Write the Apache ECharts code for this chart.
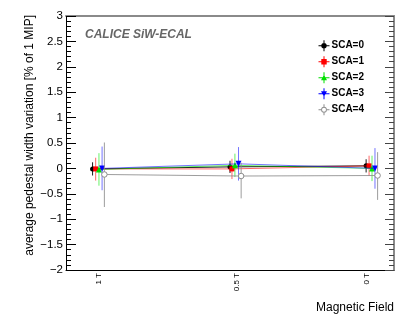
<!DOCTYPE html>
<html>
<head>
<meta charset="utf-8">
<script src="https://cdn.jsdelivr.net/npm/echarts@6/dist/echarts.min.js"></script>
<style>html,body{margin:0;padding:0;background:#fff;}#c{width:415px;height:322px;}</style>
</head>
<body>
<div id="c"></div>
<script>
// ---- data ----
var xLabels = ['1 T', '0.5 T', '0 T'];
var xLabelPos = [10.1, 52.1, 91.8];
var yTicks = [-2, -1.5, -1, -0.5, 0, 0.5, 1, 1.5, 2, 2.5, 3];
var seriesNames = ['SCA=0', 'SCA=1', 'SCA=2', 'SCA=3', 'SCA=4'];

var sca0X = [8.1, 50.0, 91.5];
var sca1X = [9.05, 50.6, 92.4];
var sca2X = [10.05, 51.5, 93.3];
var sca3X = [11.0, 52.6, 94.2];
var sca4X = [11.7, 53.4, 95.0];

var sca0Y = [-0.01, 0.03, 0.05];
var sca1Y = [-0.01, -0.01, 0.05];
var sca2Y = [-0.02, 0.06, 0.0];
var sca3Y = [0.0, 0.09, 0.0];
var sca4Y = [-0.12, -0.15, -0.14];

var sca0ErrUp = [0.13, 0.12, 0.13];
var sca0ErrDn = [0.13, 0.12, 0.13];
var sca1ErrUp = [0.22, 0.2, 0.2];
var sca1ErrDn = [0.23, 0.2, 0.2];
var sca2ErrUp = [0.32, 0.23, 0.25];
var sca2ErrDn = [0.32, 0.23, 0.25];
var sca3ErrUp = [0.43, 0.33, 0.4];
var sca3ErrDn = [0.43, 0.33, 0.4];
var sca4ErrUp = [0.63, 0.26, 0.46];
var sca4ErrDn = [0.64, 0.44, 0.48];

// ---- styles ----
var markerColors = ['#000000', '#ff0000', '#00e000', '#0000ff', '#8c8c8c'];
var barColors = ['rgba(0,0,0,0.9)', 'rgba(255,0,0,0.6)', 'rgba(0,230,0,0.6)', 'rgba(0,0,255,0.55)', 'rgba(140,140,140,0.85)'];
var symbols = ['circle', 'rect', 'triangle', 'triangle', 'circle'];
var symbolRot = [0, 0, 0, 180, 0];
var symbolSizes = [5, 5, 6, 6, 5.5];
var icons = [
  'path://M0,5L11,5L11,6L0,6Z M5,0L6,0L6,11L5,11Z M8.2,5.5A2.7,2.7,0,1,1,2.8,5.5A2.7,2.7,0,1,1,8.2,5.5Z',
  'path://M0,5L11,5L11,6L0,6Z M5,0L6,0L6,11L5,11Z M2.8,2.8L8.2,2.8L8.2,8.2L2.8,8.2Z',
  'path://M0,5L11,5L11,6L0,6Z M5,0L6,0L6,11L5,11Z M5.5,2.5L8.5,8L2.5,8Z',
  'path://M0,5L11,5L11,6L0,6Z M5,0L6,0L6,11L5,11Z M2.5,3L8.5,3L5.5,8.5Z',
  'path://M0,5L2.6,5L2.6,6L0,6Z M8.4,5L11,5L11,6L8.4,6Z M5,0L6,0L6,2.6L5,2.6Z M5,8.4L6,8.4L6,11L5,11Z M8.4,5.5A2.9,2.9,0,1,1,2.6,5.5A2.9,2.9,0,1,1,8.4,5.5Z M7.5,5.5A2,2,0,1,0,3.5,5.5A2,2,0,1,0,7.5,5.5Z'
];

var allX = [sca0X, sca1X, sca2X, sca3X, sca4X];
var allY = [sca0Y, sca1Y, sca2Y, sca3Y, sca4Y];
var allUp = [sca0ErrUp, sca1ErrUp, sca2ErrUp, sca3ErrUp, sca4ErrUp];
var allDn = [sca0ErrDn, sca1ErrDn, sca2ErrDn, sca3ErrDn, sca4ErrDn];

var series = [];
for (var s = 0; s < 5; s++) {
  (function (s) {
    var errData = allX[s].map(function (x, i) { return [x, allY[s][i], allY[s][i] - allDn[s][i], allY[s][i] + allUp[s][i]]; });
    series.push({
      type: 'custom',
      name: seriesNames[s] + '_err',
      xAxisIndex: 0, yAxisIndex: 0,
      silent: true,
      z: 2 + s * 2,
      encode: { x: 0, y: [1, 2, 3] },
      data: errData,
      renderItem: function (params, api) {
        var p1 = api.coord([api.value(0), api.value(2)]);
        var p2 = api.coord([api.value(0), api.value(3)]);
        return {
          type: 'line',
          shape: { x1: p1[0], y1: p1[1], x2: p2[0], y2: p2[1] },
          style: { stroke: barColors[s], lineWidth: 1 }
        };
      }
    });
    series.push({
      type: 'line',
      name: seriesNames[s],
      xAxisIndex: 0, yAxisIndex: 0,
      z: 3 + s * 2,
      data: allX[s].map(function (x, i) { return [x, allY[s][i]]; }),
      symbol: symbols[s],
      symbolRotate: symbolRot[s],
      symbolSize: symbolSizes[s],
      showSymbol: true,
      animation: false,
      lineStyle: { color: barColors[s], width: 1 },
      itemStyle: s === 4 ? { color: '#ffffff', borderColor: markerColors[s], borderWidth: 1 } : { color: markerColors[s], borderWidth: 0 },
      emphasis: { disabled: true }
    });
  })(s);
}

var chart = echarts.init(document.getElementById('c'), null, { renderer: 'canvas' });
var font = 'Liberation Sans, Arial, Helvetica, sans-serif';
chart.setOption({
  animation: false,
  backgroundColor: '#ffffff',
  textStyle: { fontFamily: font },
  grid: { left: 66, right: 21, top: 16, bottom: 52, containLabel: false },
  legend: {
    orient: 'vertical',
    left: 313.5,
    top: 35.2,
    itemWidth: 11,
    itemHeight: 11,
    itemGap: 5,
    selectedMode: false,
    itemStyle: { borderWidth: 0 },
    textStyle: { fontFamily: font, fontWeight: 'bold', fontSize: 10, color: '#000', padding: [0, 0, 0, -3] },
    data: seriesNames.map(function (n, i) { return { name: n, icon: icons[i], itemStyle: { color: markerColors[i], borderWidth: 0 } }; })
  },
  xAxis: [{
    type: 'value', min: 0, max: 100,
    position: 'bottom',
    axisLine: { show: true, onZero: false, lineStyle: { color: '#000', width: 1 } },
    axisTick: { show: false },
    splitLine: { show: false },
    axisLabel: {
      customValues: xLabelPos,
      rotate: 90,
      fontSize: 8,
      margin: 3,
      color: '#000',
      fontFamily: font,
      formatter: function (v) { var i = xLabelPos.indexOf(v); return i >= 0 ? xLabels[i] : ''; }
    }
  }, {
    type: 'value', min: 0, max: 100,
    position: 'top',
    axisLine: { show: true, onZero: false, lineStyle: { color: '#8a8a8a', width: 2 } },
    axisTick: { show: false }, axisLabel: { show: false }, splitLine: { show: false }
  }],
  yAxis: [{
    type: 'value', min: -2, max: 3, interval: 0.5,
    position: 'left',
    axisLine: { show: true, onZero: false, lineStyle: { color: '#000', width: 1 } },
    axisTick: { show: true, inside: true, length: 10, lineStyle: { color: '#000' } },
    minorTick: { show: true, splitNumber: 5, length: 5, lineStyle: { color: '#000' } },
    splitLine: { show: false },
    axisLabel: {
      fontSize: 11.5, color: '#000', margin: 3, fontFamily: font,
      formatter: function (v) { var r = Math.round(v * 10) / 10; return r < 0 ? '\u2212' + String(-r) : String(r); }
    }
  }, {
    type: 'value', min: -2, max: 3, interval: 0.5,
    position: 'right',
    axisLine: { show: true, onZero: false, lineStyle: { color: '#8a8a8a', width: 2 } },
    axisTick: { show: true, inside: true, length: 9, lineStyle: { color: '#444' } },
    minorTick: { show: true, splitNumber: 5, length: 5, lineStyle: { color: '#444' } },
    splitLine: { show: false },
    axisLabel: { show: false }
  }],
  graphic: [
    { type: 'text', x: 30, y: 15, rotation: Math.PI / 2,
      style: { text: 'average pedestal width variation [% of 1 MIP]', fill: '#000', font: '12px ' + font, textAlign: 'right', textVerticalAlign: 'middle' } },
    { type: 'text', x: 394, y: 308,
      style: { text: 'Magnetic Field', fill: '#000', font: '12px ' + font, textAlign: 'right', textVerticalAlign: 'middle' } },
    { type: 'text', x: 85, y: 35,
      style: { text: 'CALICE SiW-ECAL', fill: '#666', font: 'italic bold 12px ' + font, textAlign: 'left', textVerticalAlign: 'middle' } }
  ],
  series: series
});
</script>
</body>
</html>
